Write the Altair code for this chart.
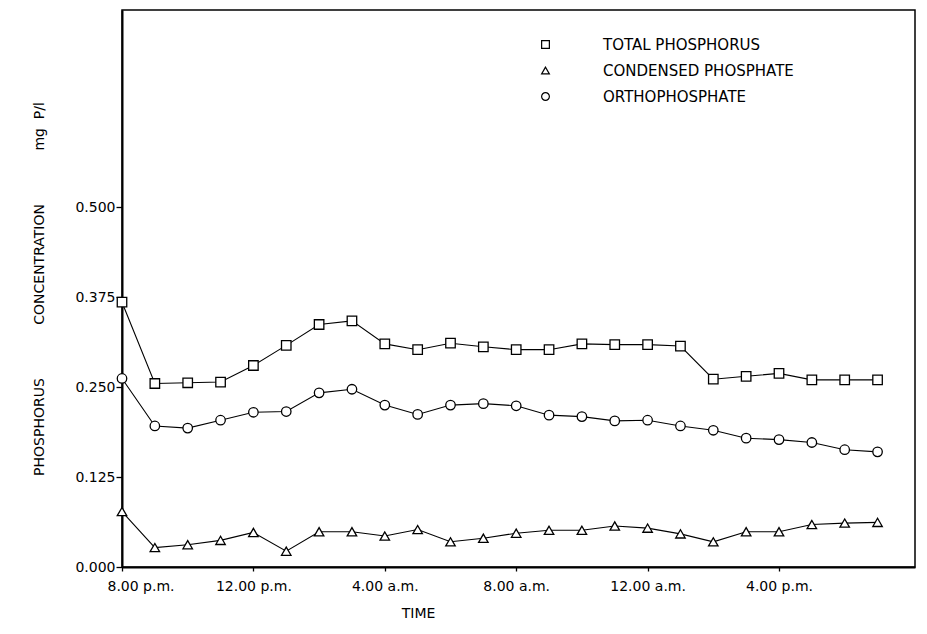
import altair as alt
import pandas as pd

# Hourly samples, starting 8.00 p.m. (hour index 0) through 7.00 p.m. next day
hours = list(range(24))

total_phosphorus = [0.368, 0.255, 0.256, 0.257, 0.280, 0.308, 0.337, 0.342,
                    0.310, 0.302, 0.311, 0.306, 0.302, 0.302, 0.310, 0.309,
                    0.309, 0.307, 0.261, 0.265, 0.269, 0.260, 0.260, 0.260]

condensed_phosphate = [0.077, 0.027, 0.031, 0.037, 0.048, 0.022, 0.049, 0.049,
                       0.043, 0.052, 0.035, 0.040, 0.047, 0.051, 0.051, 0.057,
                       0.054, 0.046, 0.035, 0.049, 0.049, 0.059, 0.061, 0.062]

orthophosphate = [0.262, 0.196, 0.193, 0.204, 0.215, 0.216, 0.242, 0.247,
                  0.225, 0.212, 0.225, 0.227, 0.224, 0.211, 0.209, 0.203,
                  0.204, 0.196, 0.190, 0.179, 0.177, 0.173, 0.163, 0.160]

series_names = ["TOTAL PHOSPHORUS", "CONDENSED PHOSPHATE", "ORTHOPHOSPHATE"]
series_shapes = ["square", "triangle-up", "circle"]

x_tick_values = [0, 4, 8, 12, 16, 20]
x_tick_labels = ["8.00 p.m.", "12.00 p.m.", "4.00 a.m.", "8.00 a.m.",
                 "12.00 a.m.", "4.00 p.m."]
y_tick_values = [0.0, 0.125, 0.25, 0.375, 0.5]

rows = []
for name, values in zip(series_names,
                        [total_phosphorus, condensed_phosphate, orthophosphate]):
    for h, v in zip(hours, values):
        rows.append({"hour": h, "conc": v, "series": name})
df = pd.DataFrame(rows)

# tick label lookup expression
label_expr = "''"
for v, lab in reversed(list(zip(x_tick_values, x_tick_labels))):
    label_expr = f"datum.value == {v} ? '{lab}' : ({label_expr})"

FONT = "DejaVu Sans"
NB = "\u00a0"
y_title = f"PHOSPHORUS{NB*12}CONCENTRATION{NB*12}mg{NB*2}P/l"

x_enc = alt.X(
    "hour:Q",
    scale=alt.Scale(domain=[0, 24.14], nice=False, zero=False),
    axis=alt.Axis(
        values=x_tick_values, labelExpr=label_expr, title="TIME",
        grid=False, tickSize=4, labelPadding=8, labelFlush=True,
        labelFlushOffset=15, titleX=296, titleAnchor="start", titleAlign="center",
        titlePadding=13,
    ),
)
y_enc = alt.Y(
    "conc:Q",
    scale=alt.Scale(domain=[0, 0.774], nice=False),
    axis=alt.Axis(
        values=y_tick_values, format=".3f", title=y_title, grid=False,
        tickSize=6, labelPadding=1, titlePadding=28,
    ),
)
shape_scale = alt.Scale(domain=series_names, range=series_shapes)

lines = alt.Chart(df).mark_line(color="black", strokeWidth=1.1).encode(
    x=x_enc, y=y_enc, detail="series:N"
)

# white interiors so the connecting lines stop at each marker's outline
marker_fill = alt.Chart(df).mark_point(filled=True, color="white", opacity=1, size=90).encode(
    x=x_enc, y=y_enc,
    shape=alt.Shape("series:N", sort=series_names, scale=shape_scale, legend=None),
)

marker_outline = alt.Chart(df).mark_point(
    filled=False, color="black", strokeWidth=1.3, opacity=1, size=90
).encode(
    x=x_enc,
    y=y_enc,
    shape=alt.Shape(
        "series:N",
        sort=series_names,
        scale=shape_scale,
        legend=alt.Legend(
            title=None, orient="none", legendX=416, legendY=27,
            symbolSize=60, symbolStrokeWidth=1.2, labelFont=FONT,
            labelFontSize=15, labelLimit=400, labelColor="black",
            labelOffset=50, rowPadding=10, padding=0,
        ),
    ),
)

chart = (
    alt.layer(lines, marker_fill, marker_outline)
    .resolve_scale(shape="independent")
    .resolve_legend(shape="independent")
    .properties(
        width=793, height=557,
        autosize=alt.AutoSizeParams(type="none"),
        padding={"left": 122, "top": 10, "right": 12, "bottom": 67},
        background="white",
    )
    .configure_view(stroke="black", strokeWidth=1.5)
    .configure_axis(
        domainColor="black", domainWidth=2, tickColor="black", tickWidth=1.3,
        labelColor="black", titleColor="black", labelFont=FONT,
        titleFont=FONT, labelFontSize=14, titleFontSize=14,
        titleFontWeight="normal",
    )
)

chart.save("out.html", embed_options={"renderer": "svg", "actions": False})
